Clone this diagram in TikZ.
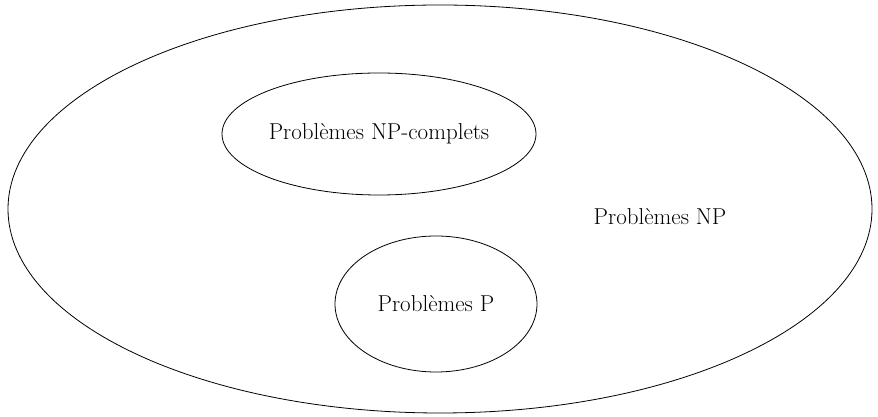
\documentclass[tikz,border=0pt]{standalone}
\usetikzlibrary{shapes.geometric}

\tikzset{
  ens/.style={draw, ellipse, inner sep=0pt, line width=0.8pt},
  lbl/.style={font=\fontsize{23}{27}\selectfont}
}

\begin{document}
\begin{tikzpicture}[x=1pt, y=1pt]
  \useasboundingbox (0,0) rectangle (878,417);

  %% classes
  \node[ens, minimum width=864pt, minimum height=408pt] (np) at (440,208) {};
  \node[ens, lbl, minimum width=314pt, minimum height=122pt] (npc) at (379,283) {Problèmes NP-complets};
  \node[ens, lbl, minimum width=202pt, minimum height=136pt] (p) at (436,113) {Problèmes P};

  %% label of the big set
  \node[lbl] (nplabel) at (660,200) {Problèmes NP};
\end{tikzpicture}
\end{document}
